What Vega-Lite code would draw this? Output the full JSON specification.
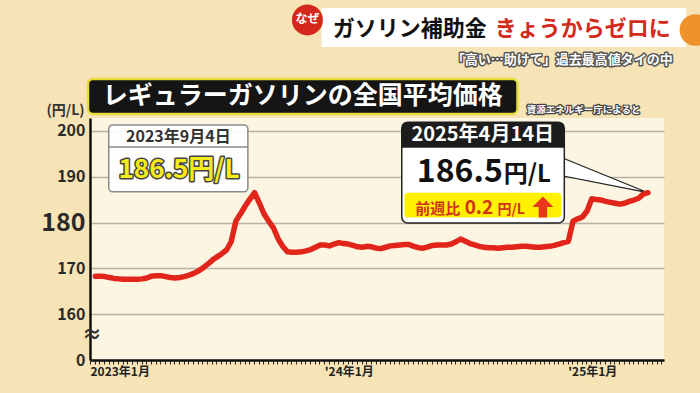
{
"$schema":"https://vega.github.io/schema/vega-lite/v6.json",
"width":574,"height":242,
"autosize":{"type":"none"},
"padding":{"left":90,"top":118,"right":36,"bottom":33},
"background":"#f7e4b6",
"config":{"font":"Noto Sans CJK JP","view":{"stroke":null,"fill":"#fcf5e2"}},
"datasets":{
"price":[
{"date":"2023-01-09","price":168.3},{"date":"2023-01-16","price":168.3},{"date":"2023-01-23","price":168.2},{"date":"2023-01-30","price":168.0},
{"date":"2023-02-06","price":167.8},{"date":"2023-02-13","price":167.7},{"date":"2023-02-20","price":167.6},{"date":"2023-02-27","price":167.6},
{"date":"2023-03-06","price":167.6},{"date":"2023-03-13","price":167.6},{"date":"2023-03-20","price":167.7},{"date":"2023-03-27","price":167.9},
{"date":"2023-04-03","price":168.3},{"date":"2023-04-10","price":168.4},{"date":"2023-04-17","price":168.4},{"date":"2023-04-24","price":168.2},
{"date":"2023-05-01","price":168.0},{"date":"2023-05-08","price":167.9},{"date":"2023-05-15","price":168.0},{"date":"2023-05-22","price":168.2},
{"date":"2023-05-29","price":168.5},{"date":"2023-06-05","price":168.9},{"date":"2023-06-12","price":169.4},{"date":"2023-06-19","price":170.1},
{"date":"2023-06-26","price":170.9},{"date":"2023-07-03","price":171.8},{"date":"2023-07-10","price":172.5},{"date":"2023-07-17","price":173.2},
{"date":"2023-07-24","price":174.0},{"date":"2023-07-31","price":175.8},{"date":"2023-08-07","price":180.3},{"date":"2023-08-14","price":181.9},
{"date":"2023-08-21","price":183.6},{"date":"2023-08-28","price":185.1},{"date":"2023-09-04","price":186.5},{"date":"2023-09-11","price":184.3},
{"date":"2023-09-18","price":181.9},{"date":"2023-09-25","price":180.3},{"date":"2023-10-02","price":178.9},{"date":"2023-10-09","price":176.5},
{"date":"2023-10-16","price":174.8},{"date":"2023-10-23","price":173.6},{"date":"2023-10-30","price":173.5},{"date":"2023-11-06","price":173.5},
{"date":"2023-11-13","price":173.6},{"date":"2023-11-20","price":173.8},{"date":"2023-11-27","price":174.1},{"date":"2023-12-04","price":174.6},
{"date":"2023-12-11","price":175.1},{"date":"2023-12-18","price":175.1},{"date":"2023-12-25","price":174.9},{"date":"2024-01-01","price":175.3},
{"date":"2024-01-08","price":175.6},{"date":"2024-01-15","price":175.4},{"date":"2024-01-22","price":175.3},{"date":"2024-01-29","price":175.0},
{"date":"2024-02-05","price":174.7},{"date":"2024-02-12","price":174.6},{"date":"2024-02-19","price":174.8},{"date":"2024-02-26","price":174.7},
{"date":"2024-03-04","price":174.4},{"date":"2024-03-11","price":174.3},{"date":"2024-03-18","price":174.6},{"date":"2024-03-25","price":174.9},
{"date":"2024-04-01","price":175.0},{"date":"2024-04-08","price":175.1},{"date":"2024-04-15","price":175.2},{"date":"2024-04-22","price":175.2},
{"date":"2024-04-29","price":174.8},{"date":"2024-05-06","price":174.5},{"date":"2024-05-13","price":174.4},{"date":"2024-05-20","price":174.7},
{"date":"2024-05-27","price":175.0},{"date":"2024-06-03","price":175.1},{"date":"2024-06-10","price":175.1},{"date":"2024-06-17","price":175.1},
{"date":"2024-06-24","price":175.3},{"date":"2024-07-01","price":175.8},{"date":"2024-07-08","price":176.4},{"date":"2024-07-15","price":175.9},
{"date":"2024-07-22","price":175.4},{"date":"2024-07-29","price":175.1},{"date":"2024-08-05","price":174.8},{"date":"2024-08-12","price":174.6},
{"date":"2024-08-19","price":174.5},{"date":"2024-08-26","price":174.5},{"date":"2024-09-02","price":174.4},{"date":"2024-09-09","price":174.5},
{"date":"2024-09-16","price":174.6},{"date":"2024-09-23","price":174.6},{"date":"2024-09-30","price":174.7},{"date":"2024-10-07","price":174.8},
{"date":"2024-10-14","price":174.8},{"date":"2024-10-21","price":174.7},{"date":"2024-10-28","price":174.6},{"date":"2024-11-04","price":174.6},
{"date":"2024-11-11","price":174.7},{"date":"2024-11-18","price":174.8},{"date":"2024-11-25","price":175.0},{"date":"2024-12-02","price":175.3},
{"date":"2024-12-09","price":175.6},{"date":"2024-12-16","price":175.9},{"date":"2024-12-23","price":180.3},{"date":"2024-12-30","price":180.8},
{"date":"2025-01-06","price":181.2},{"date":"2025-01-13","price":182.5},{"date":"2025-01-20","price":185.2},{"date":"2025-01-27","price":185.0},
{"date":"2025-02-03","price":184.9},{"date":"2025-02-10","price":184.6},{"date":"2025-02-17","price":184.4},{"date":"2025-02-24","price":184.2},
{"date":"2025-03-03","price":184.0},{"date":"2025-03-10","price":184.2},{"date":"2025-03-17","price":184.6},{"date":"2025-03-24","price":184.9},
{"date":"2025-03-31","price":185.3},{"date":"2025-04-07","price":186.2},{"date":"2025-04-14","price":186.5}
],
"callout":[{"date":"2024-12-03","top":194.35,"bottom":190.3},{"date":"2025-04-14","top":186.5,"bottom":186.5}]
},
"layer":[
{"data":{"values":[{}]},"mark":{"type":"rect","fill":"#ffffff"},
 "encoding":{"x":{"datum":{"year":2023,"month":12,"date":13,"utc":true},"type":"temporal"},"x2":{"datum":{"year":2025,"month":6,"date":10,"utc":true}},"y":{"datum":226.8},"y2":{"datum":218.3}}},
{"data":{"values":[{}]},"mark":{"type":"point","shape":"circle","filled":true,"color":"#d3281b","opacity":1,"size":960},
 "encoding":{"x":{"datum":{"year":2023,"month":11,"date":22,"utc":true},"type":"temporal"},"y":{"datum":224.2}}},
{"data":{"values":[{}]},"mark":{"type":"text","text":"なぜ","fontSize":12,"fontWeight":"bold","color":"#ffffff","align":"center","baseline":"middle"},
 "encoding":{"x":{"datum":{"year":2023,"month":11,"date":22,"utc":true},"type":"temporal"},"y":{"datum":224.4}}},
{"data":{"values":[{}]},"mark":{"type":"text","text":"ガソリン補助金","fontSize":22,"fontWeight":"bold","color":"#111111","align":"left","baseline":"middle"},
 "encoding":{"x":{"datum":{"year":2023,"month":12,"date":30,"utc":true},"type":"temporal"},"y":{"datum":222.2}}},
{"data":{"values":[{}]},"mark":{"type":"text","text":"きょうからゼロに","fontSize":22,"fontWeight":"bold","color":"#d42a1c","align":"left","baseline":"middle"},
 "encoding":{"x":{"datum":{"year":2024,"month":8,"date":28,"utc":true},"type":"temporal"},"y":{"datum":222.2}}},
{"data":{"values":[{}]},"mark":{"type":"text","text":"「高い…助けて」過去最高値タイの中","fontSize":13,"fontWeight":"bold","fill":"#555555","stroke":"#555555","strokeWidth":3,"strokeJoin":"round","align":"right","baseline":"middle"},
 "encoding":{"x":{"datum":{"year":2025,"month":5,"date":21,"utc":true},"type":"temporal"},"y":{"datum":215.5}}},
{"data":{"values":[{}]},"mark":{"type":"text","text":"「高い…助けて」過去最高値タイの中","fontSize":13,"fontWeight":"bold","fill":"#ffffff","align":"right","baseline":"middle"},
 "encoding":{"x":{"datum":{"year":2025,"month":5,"date":21,"utc":true},"type":"temporal"},"y":{"datum":215.5}}},
{"data":{"values":[{}]},"mark":{"type":"point","shape":"circle","filled":true,"color":"#f0922a","opacity":1,"size":1000},
 "encoding":{"x":{"datum":{"year":2025,"month":6,"date":24,"utc":true},"type":"temporal"},"y":{"datum":222.0}}},
{"data":{"values":[{}]},"mark":{"type":"rect","fill":"#151515","stroke":"#e6dc3a","strokeWidth":2.5,"cornerRadius":5},
 "encoding":{"x":{"datum":{"year":2022,"month":12,"date":29,"utc":true},"type":"temporal"},"x2":{"datum":{"year":2024,"month":10,"date":1,"utc":true}},"y":{"datum":211.3},"y2":{"datum":203.7}}},
{"data":{"values":[{}]},"mark":{"type":"text","text":"レギュラーガソリンの全国平均価格","fontSize":25,"fontWeight":"bold","color":"#ffffff","align":"center","baseline":"middle"},
 "encoding":{"x":{"datum":{"year":2023,"month":11,"date":15,"utc":true},"type":"temporal"},"y":{"datum":207.5}}},
{"data":{"values":[{}]},"mark":{"type":"text","text":"資源エネルギー庁によると","fontSize":9.5,"fontWeight":"bold","fill":"#444444","stroke":"#444444","strokeWidth":2.5,"strokeJoin":"round","align":"left","baseline":"middle"},
 "encoding":{"x":{"datum":{"year":2024,"month":10,"date":15,"utc":true},"type":"temporal"},"y":{"datum":204.5}}},
{"data":{"values":[{}]},"mark":{"type":"text","text":"資源エネルギー庁によると","fontSize":9.5,"fontWeight":"bold","fill":"#ffffff","align":"left","baseline":"middle"},
 "encoding":{"x":{"datum":{"year":2024,"month":10,"date":15,"utc":true},"type":"temporal"},"y":{"datum":204.5}}},
{"data":{"values":[{}]},"mark":{"type":"text","text":"(円/L)","fontSize":14,"fontWeight":"bold","color":"#333333","align":"right","baseline":"middle"},
 "encoding":{"x":{"datum":{"year":2022,"month":12,"date":24,"utc":true},"type":"temporal"},"y":{"datum":204.3}}},
{"data":{"values":[{}]},"mark":{"type":"text","text":"≈","fontSize":20,"fontWeight":"bold","color":"#333333","align":"center","baseline":"middle"},
 "encoding":{"x":{"datum":{"year":2023,"month":1,"date":4,"utc":true},"type":"temporal"},"y":{"datum":155.2}}},
{"data":{"values":[{}]},"mark":{"type":"rect","fill":"#ffffff","fillOpacity":0.9,"stroke":"#8a8a8a","strokeWidth":1.5,"cornerRadius":4},
 "encoding":{"x":{"datum":{"year":2023,"month":1,"date":29,"utc":true},"type":"temporal"},"x2":{"datum":{"year":2023,"month":8,"date":25,"utc":true}},"y":{"datum":201.3},"y2":{"datum":186.7}}},
{"data":{"values":[{}]},"mark":{"type":"rule","color":"#8a8a8a","strokeWidth":1.5},
 "encoding":{"x":{"datum":{"year":2023,"month":1,"date":29,"utc":true},"type":"temporal"},"x2":{"datum":{"year":2023,"month":8,"date":25,"utc":true}},"y":{"datum":196.5}}},
{"data":{"values":[{}]},"mark":{"type":"text","text":"2023年9月4日","fontSize":16,"fontWeight":"bold","color":"#333333","align":"center","baseline":"middle"},
 "encoding":{"x":{"datum":{"year":2023,"month":5,"date":13,"utc":true},"type":"temporal"},"y":{"datum":198.7}}},
{"data":{"values":[{}]},"mark":{"type":"text","text":"186.5円/L","fontSize":26,"fontWeight":"bold","fill":"#444444","stroke":"#444444","strokeWidth":3,"strokeJoin":"round","align":"center","baseline":"middle"},
 "encoding":{"x":{"datum":{"year":2023,"month":5,"date":14,"utc":true},"type":"temporal"},"y":{"datum":191.5}}},
{"data":{"values":[{}]},"mark":{"type":"text","text":"186.5円/L","fontSize":26,"fontWeight":"bold","fill":"#f4ea1c","align":"center","baseline":"middle"},
 "encoding":{"x":{"datum":{"year":2023,"month":5,"date":14,"utc":true},"type":"temporal"},"y":{"datum":191.5}}},
{"data":{"name":"callout"},"mark":{"type":"area","fill":"#ffffff","stroke":"#222222","strokeWidth":1.2},
 "encoding":{"x":{"field":"date","type":"temporal"},"y":{"field":"top","type":"quantitative"},"y2":{"field":"bottom"}}},
{"data":{"values":[{}]},"mark":{"type":"rect","fill":"#ffffff","stroke":"#222222","strokeWidth":1.5,"cornerRadius":6},
 "encoding":{"x":{"datum":{"year":2024,"month":4,"date":11,"utc":true},"type":"temporal"},"x2":{"datum":{"year":2024,"month":12,"date":10,"utc":true}},"y":{"datum":201.9},"y2":{"datum":179.9}}},
{"data":{"values":[{}]},"mark":{"type":"rect","fill":"#1c1c1c","cornerRadiusTopLeft":6,"cornerRadiusTopRight":6},
 "encoding":{"x":{"datum":{"year":2024,"month":4,"date":11,"utc":true},"type":"temporal"},"x2":{"datum":{"year":2024,"month":12,"date":10,"utc":true}},"y":{"datum":201.9},"y2":{"datum":196.3}}},
{"data":{"values":[{}]},"mark":{"type":"text","text":"2025年4月14日","fontSize":20,"fontWeight":"bold","color":"#ffffff","align":"center","baseline":"middle"},
 "encoding":{"x":{"datum":{"year":2024,"month":8,"date":10,"utc":true},"type":"temporal"},"y":{"datum":199.1}}},
{"data":{"values":[{}]},"mark":{"type":"text","text":"186.5","fontSize":32,"fontWeight":"bold","color":"#111111","align":"right","baseline":"alphabetic"},
 "encoding":{"x":{"datum":{"year":2024,"month":9,"date":9,"utc":true},"type":"temporal"},"y":{"datum":188.8}}},
{"data":{"values":[{}]},"mark":{"type":"text","text":"円/L","fontSize":24,"fontWeight":"bold","color":"#111111","align":"left","baseline":"alphabetic","dx":1},
 "encoding":{"x":{"datum":{"year":2024,"month":9,"date":9,"utc":true},"type":"temporal"},"y":{"datum":188.8}}},
{"data":{"values":[{}]},"mark":{"type":"rect","fill":"#fff100","cornerRadius":3},
 "encoding":{"x":{"datum":{"year":2024,"month":4,"date":15,"utc":true},"type":"temporal"},"x2":{"datum":{"year":2024,"month":12,"date":5,"utc":true}},"y":{"datum":186.5},"y2":{"datum":181.1}}},
{"data":{"values":[{}]},"mark":{"type":"text","text":"前週比","fontSize":15,"fontWeight":"bold","color":"#cf3419","align":"left","baseline":"alphabetic"},
 "encoding":{"x":{"datum":{"year":2024,"month":5,"date":1,"utc":true},"type":"temporal"},"y":{"datum":181.9}}},
{"data":{"values":[{}]},"mark":{"type":"text","text":"0.2","fontSize":19,"fontWeight":"bold","color":"#cf3419","align":"left","baseline":"alphabetic"},
 "encoding":{"x":{"datum":{"year":2024,"month":7,"date":14,"utc":true},"type":"temporal"},"y":{"datum":181.9}}},
{"data":{"values":[{}]},"mark":{"type":"text","text":"円/L","fontSize":14,"fontWeight":"bold","color":"#cf3419","align":"left","baseline":"alphabetic"},
 "encoding":{"x":{"datum":{"year":2024,"month":9,"date":1,"utc":true},"type":"temporal"},"y":{"datum":181.9}}},
{"data":{"values":[{}]},"mark":{"type":"point","shape":"M0,-1L1,0L0.4,0L0.4,1L-0.4,1L-0.4,0L-1,0Z","filled":true,"color":"#e8371b","opacity":1,"size":440},
 "encoding":{"x":{"datum":{"year":2024,"month":11,"date":8,"utc":true},"type":"temporal"},"y":{"datum":183.4}}},
{"data":{"name":"price"},
 "mark":{"type":"line","color":"#e2251b","strokeWidth":5.5,"strokeCap":"round","strokeJoin":"round"},
 "encoding":{
  "x":{"field":"date","type":"temporal",
   "scale":{"type":"utc","domain":[{"year":2023,"month":1,"date":1,"utc":true},{"year":2025,"month":5,"date":8,"utc":true}]},
   "axis":{"title":null,"tickCount":{"interval":"week","step":1},"tickSize":4,"tickColor":"#222222","tickWidth":1,"domainColor":"#111111","domainWidth":2.5,"grid":false,
    "labelExpr":"utcFormat(datum.value,'%Y-%m-%d')=='2023-01-01' ? '2023年1月' : utcFormat(datum.value,'%Y-%m-%d')=='2023-12-17' ? \"'24年1月\" : utcFormat(datum.value,'%Y-%m-%d')=='2024-12-15' ? \"'25年1月\" : ''",
    "labelAlign":"left","labelBaseline":"top","labelPadding":2,"labelFontSize":12,"labelFontWeight":"bold","labelColor":"#222222","labelOverlap":false,"labelFlush":false,"labelBound":false}},
  "y":{"field":"price","type":"quantitative",
   "scale":{"domain":[150,202.8],"nice":false,"zero":false},
   "axis":{"title":null,"values":[150,160,170,180,190,200],"labelExpr":"datum.value==150 ? '0' : datum.label","grid":true,"gridColor":"#b9b1a1","gridWidth":1.5,"ticks":false,
    "domainColor":"#111111","domainWidth":2.5,"labelPadding":5,"labelColor":"#2a2a2a","labelFontWeight":"bold",
    "labelFontSize":{"condition":{"test":"datum.value==180","value":25},"value":16}}}
 }}
]
}
